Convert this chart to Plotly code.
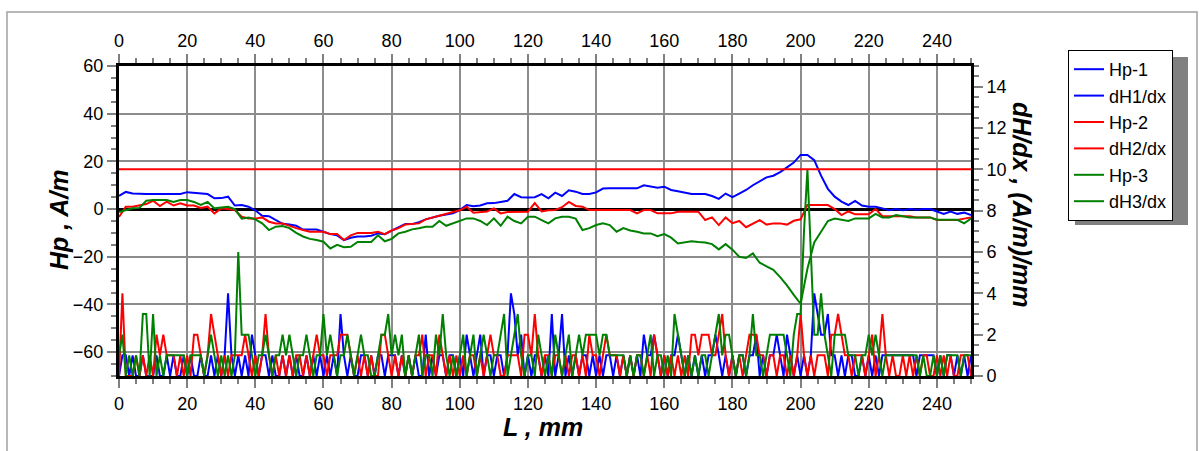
import plotly.graph_objects as go

# ---------------- data ----------------
x_hp = list(range(0, 251, 2))
x_dh = list(range(0, 251, 1))

hp1 = [5.5, 7.2, 6.5, 6.3, 6.3, 6.3, 6.3, 6.3, 6.3, 6.3,
       7.1, 6.8, 6.3, 6.3, 4.5, 4.6, 5.2, 1.5, 1.7, 1.0,
       -0.5, -2.8, -3, -4.5, -6.2, -6.5, -7, -8.6, -8.6, -8.6,
       -9.5, -10.5, -11, -13, -12, -11.5, -11.5, -11.2, -10.2, -10.5,
       -9, -7.5, -6.3, -6.3, -5.5, -4.3, -3.5, -2.8, -2.3, -1.8,
       -0.4, 1.7, 1.2, 1.5, 2.4, 2.5, 3, 3.5, 6.3, 5,
       4.9, 5, 6.3, 4.5, 6.9, 5.5, 7.9, 7.3, 6.3, 6.3,
       7, 8.6, 8.7, 8.7, 8.7, 8.7, 8.7, 10, 9.5, 9,
       9.4, 8, 7.5, 7, 6.3, 6.3, 6.3, 5.5, 4.3, 6.5,
       5, 6.5, 8, 10, 11.5, 13.3, 14, 15.5, 17.5, 19.5,
       22.7, 22.7, 20.5, 14, 8.5, 5.2, 3.1, 1.7, 3.4, 1.5,
       1, 1, 0.3, -0.5, 0, -0.5, 0, -0.3, 0, 0,
       -1, -2, -1, -2, -1.5, -2.5]

hp2 = [-3.3, 1, 1, 1.5, 2.1, 3.5, 1.3, 3.1, 1.5, 2.4,
       1.5, 1.5, 0.5, 1, -1.8, 0.3, 0, -0.4, -3.2, -3.9,
       -4, -3.5, -5.3, -6, -6, -7.1, -8, -8.8, -9.5, -9.5,
       -9.5, -10.5, -10.5, -13, -11, -10, -10, -10, -9.5, -10.5,
       -9, -8, -6.5, -6.3, -6, -4.3, -3.5, -2.5, -2, -1.2,
       -0.5, 1, -1.5, -1.2, -1, 0.3, -1.8, -1.2, -1.1, -1.1,
       -1.1, 2.5, -1, -0.5, -0.4, 0.8, 3, 1.3, 1, -0.4,
       -0.4, -0.4, -0.4, -0.4, -0.4, -0.4, -1.8, -0.4, -0.4, -1.8,
       -1.8, -1.8, -1.1, -1.1, -1.1, -1.1, -4.6, -3.5, -6.7, -3.5,
       -5.9, -5, -7.6, -6, -4.6, -6.5, -6, -6, -6.5, -4.9,
       -4.3, 1.7, 1.7, 1.7, 1.7, 0, -2.5, -1, -2.2, -2.2,
       -2.2, 0, -3, -3, -3, -3.2, -3, -3.5, -3.5, -3.5,
       -4.6, -4.6, -4.6, -4.6, -4, -3.5]

hp3 = [-1.2, -0.5, 0.3, 0.5, 3.5, 3.8, 3.8, 3.8, 3, 3.8,
       3.8, 3, 1.7, 3, 0.3, 0.8, 1, 0, -4, -3.5,
       -4.3, -6, -8.8, -7.4, -7.1, -8, -10, -11.5, -12.5, -13,
       -13.7, -16.5, -15, -16, -15.8, -13.8, -13.8, -13.8, -11, -13.5,
       -12.5, -10.2, -9.5, -8.5, -8, -7.4, -7.4, -5, -7, -6,
       -5, -3.9, -3.9, -5, -6.7, -3.9, -7, -3.2, -5, -6,
       -3.2, -3.2, -4.6, -6, -3.9, -3.2, -3.2, -4, -8.8, -8,
       -6.7, -6, -6.7, -9.5, -8, -9, -9.5, -10.2, -10.2, -11.4,
       -10.5, -12, -14.4, -13.8, -13.5, -13.8, -14, -14.7, -16.9, -14.7,
       -17, -20, -20.5, -18.6, -22.5, -24, -25.5, -28.5, -32, -36,
       -39.7, -25, -14, -9.5, -5, -4, -4.5, -5, -3.9, -3.9,
       -3.9, -2, -3.5, -3.5, -2.5, -3, -3.5, -3.5, -3.5, -3.5,
       -4.5, -4.5, -4.5, -4.5, -6, -4]

dh1 = [0, 1, 1, 0, 1, 0, 0, 1, 0, 0,
       0, 1, 0, 0, 1, 0, 1, 0, 0, 1,
       0, 1, 0, 0, 1, 0, 0, 1, 0, 1,
       0, 1, 4, 1, 0, 1, 0, 1, 0, 2,
       1, 0, 1, 1, 0, 1, 0, 0, 1, 0,
       1, 0, 1, 0, 0, 1, 0, 1, 0, 1,
       0, 1, 0, 1, 0, 3, 1, 0, 1, 0,
       0, 1, 1, 0, 1, 0, 1, 1, 0, 1,
       1, 1, 0, 1, 0, 1, 0, 1, 0, 0,
       2, 0, 1, 0, 1, 1, 0, 1, 1, 0,
       1, 0, 2, 1, 0, 1, 2, 0, 1, 1,
       0, 1, 1, 0, 1, 4, 3, 1, 2, 0,
       1, 0, 1, 1, 0, 1, 0, 3, 0, 1,
       3, 0, 1, 0, 1, 0, 1, 1, 0, 1,
       0, 1, 0, 1, 1, 0, 1, 0, 1, 0,
       1, 0, 1, 0, 2, 1, 1, 2, 1, 0,
       1, 0, 1, 1, 2, 1, 0, 1, 0, 1,
       0, 1, 0, 1, 1, 2, 1, 0, 1, 0,
       1, 0, 1, 1, 0, 1, 1, 2, 0, 1,
       0, 1, 1, 2, 1, 0, 2, 1, 0, 1,
       0, 1, 0, 1, 4, 3, 2, 2, 3, 1,
       1, 0, 1, 0, 1, 1, 0, 0, 1, 0,
       1, 0, 1, 0, 1, 1, 1, 1, 1, 1,
       1, 1, 1, 1, 0, 1, 1, 1, 1, 1,
       0, 1, 0, 1, 1, 0, 1, 0, 1, 0,
       1]

dh2 = [0, 4, 0, 0, 0, 1, 0, 1, 0, 1,
       0, 2, 1, 2, 1, 1, 1, 0, 1, 0,
       1, 0, 2, 2, 1, 0, 1, 3, 2, 1,
       0, 1, 0, 1, 1, 1, 1, 2, 1, 0,
       1, 0, 1, 3, 1, 0, 1, 0, 1, 0,
       1, 0, 1, 1, 0, 1, 0, 1, 2, 1,
       1, 0, 1, 1, 1, 2, 2, 2, 1, 0,
       1, 0, 1, 0, 1, 0, 0, 2, 2, 1,
       0, 1, 0, 1, 0, 1, 0, 1, 1, 2,
       0, 1, 1, 0, 2, 1, 0, 1, 0, 1,
       0, 1, 0, 1, 1, 0, 1, 0, 1, 2,
       1, 1, 0, 0, 1, 1, 1, 1, 0, 2,
       2, 1, 3, 1, 0, 1, 1, 0, 1, 1,
       0, 1, 0, 1, 1, 0, 1, 0, 2, 1,
       1, 0, 1, 2, 1, 1, 1, 0, 1, 0,
       1, 0, 1, 1, 0, 1, 0, 2, 1, 0,
       1, 0, 1, 0, 1, 0, 1, 0, 2, 2,
       1, 2, 2, 2, 1, 1, 2, 3, 1, 0,
       1, 0, 1, 0, 1, 2, 2, 2, 1, 1,
       0, 1, 1, 0, 1, 1, 0, 1, 0, 1,
       3, 1, 0, 1, 0, 1, 1, 1, 0, 2,
       2, 3, 2, 1, 1, 0, 1, 1, 1, 0,
       1, 2, 0, 1, 3, 1, 0, 1, 0, 0,
       1, 0, 1, 0, 1, 0, 1, 1, 0, 0,
       1, 0, 1, 0, 1, 0, 0, 1, 1, 1,
       0]

dh3 = [1, 2, 0, 1, 0, 1, 0, 3, 3, 0,
       3, 0, 1, 0, 1, 1, 1, 1, 1, 1,
       0, 1, 1, 1, 1, 0, 1, 2, 1, 0,
       1, 0, 1, 0, 1, 6, 2, 2, 2, 1,
       0, 1, 1, 2, 1, 0, 1, 1, 2, 1,
       2, 1, 0, 1, 1, 2, 1, 0, 1, 1,
       3, 1, 2, 1, 0, 1, 1, 2, 1, 0,
       1, 2, 1, 1, 0, 0, 1, 2, 2, 3,
       1, 2, 1, 2, 0, 1, 0, 1, 2, 0,
       1, 1, 0, 2, 1, 3, 1, 0, 1, 0,
       1, 2, 0, 1, 2, 0, 1, 2, 1, 0,
       1, 1, 2, 3, 0, 1, 2, 3, 1, 0,
       1, 1, 0, 2, 1, 0, 1, 0, 2, 1,
       0, 1, 2, 0, 1, 2, 1, 2, 2, 2,
       2, 1, 2, 2, 1, 1, 1, 1, 1, 0,
       1, 0, 1, 1, 0, 1, 2, 0, 1, 1,
       0, 1, 0, 3, 2, 1, 0, 1, 0, 1,
       0, 1, 1, 0, 1, 2, 3, 1, 2, 2,
       1, 0, 1, 1, 0, 1, 3, 1, 1, 0,
       1, 2, 2, 2, 2, 2, 1, 0, 2, 3,
       3, 7, 10, 6, 2, 2, 4, 2, 1, 0,
       2, 2, 2, 2, 1, 1, 1, 0, 1, 1,
       2, 1, 2, 1, 0, 1, 1, 1, 1, 1,
       1, 1, 1, 1, 1, 0, 1, 0, 0, 1,
       0, 1, 0, 1, 1, 1, 1, 0, 1, 1,
       1]

threshold = 10
x_range = [0, 250]
y_left_range = [-70, 60]
y_right_range = [0, 15]

# ---------------- layout geometry ----------------
W, H = 1204, 451
ML, MR, MT, MB = 119, 233, 66, 75
PW, PH = W - ML - MR, H - MT - MB


def px_x(px):
    return (px - ML) / PW


def px_y(py):
    return (H - MB - py) / PH


BLUE, RED, GREEN = "#0000FF", "#FF0000", "#008000"
FONT = "Liberation Sans, Arial, sans-serif"

fig = go.Figure()
series = [
    ("Hp-1", x_hp, hp1, BLUE, "y"),
    ("dH1/dx", x_dh, dh1, BLUE, "y2"),
    ("Hp-2", x_hp, hp2, RED, "y"),
    ("dH2/dx", x_dh, dh2, RED, "y2"),
    ("Hp-3", x_hp, hp3, GREEN, "y"),
    ("dH3/dx", x_dh, dh3, GREEN, "y2"),
]
for name, xs, ys, col, ax in series:
    fig.add_trace(go.Scatter(x=xs, y=ys, name=name, mode="lines",
                             line=dict(color=col, width=2), yaxis=ax,
                             legendgroup=name))

# carrier trace so that the top (mirrored) x axis is drawn
fig.add_trace(go.Scatter(x=x_range, y=[None, None], xaxis="x2", yaxis="y",
                         mode="lines", showlegend=False, hoverinfo="skip"))

tickfont = dict(family=FONT, size=18, color="black")
common_x = dict(range=x_range, tick0=0, dtick=20, ticks="outside", ticklen=9,
                tickwidth=2, tickcolor="#808080", showline=True, linecolor="black",
                linewidth=3, zeroline=False, tickfont=tickfont,
                minor=dict(dtick=5, ticklen=5, tickwidth=1.5, tickcolor="#808080",
                           ticks="outside", showgrid=False))

fig.update_layout(
    width=W, height=H,
    margin=dict(l=ML, r=MR, t=MT, b=MB, pad=0),
    paper_bgcolor="white", plot_bgcolor="white",
    showlegend=True,
    xaxis=dict(**common_x, showgrid=True, gridcolor="#8c8c8c", gridwidth=2),
    xaxis2=dict(**common_x, overlaying="x", side="top", anchor="y", matches="x",
                showgrid=False),
    yaxis=dict(range=y_left_range, tick0=0, dtick=20, ticks="outside", ticklen=9,
               tickwidth=2, tickcolor="#808080", showline=True, linecolor="black",
               linewidth=3, showgrid=True, gridcolor="#8c8c8c", gridwidth=2,
               zeroline=True, zerolinecolor="black", zerolinewidth=3,
               tickfont=tickfont,
               minor=dict(dtick=5, ticklen=5, tickwidth=1.5, tickcolor="#808080",
                          ticks="outside", showgrid=False)),
    yaxis2=dict(range=y_right_range, tick0=0, dtick=2, overlaying="y", side="right",
                anchor="x", ticks="outside", ticklen=9, tickwidth=2,
                tickcolor="#808080", showline=True, linecolor="black", linewidth=3,
                showgrid=False, zeroline=False, tickfont=tickfont,
                minor=dict(dtick=0.5, ticklen=5, tickwidth=1.5, tickcolor="#808080",
                           ticks="outside", showgrid=False)),
    legend=dict(x=px_x(1068), y=px_y(50), xanchor="left", yanchor="top",
                bgcolor="white", bordercolor="black", borderwidth=1,
                font=dict(family=FONT, size=18, color="black"),
                tracegroupgap=2, traceorder="normal", itemwidth=30),
    hovermode=False,
)

# threshold line on the right axis
fig.add_shape(type="line", xref="x", yref="y2", x0=x_range[0], x1=x_range[1],
              y0=threshold, y1=threshold, line=dict(color=RED, width=2))

# outer frame
fig.add_shape(type="rect", xref="paper", yref="paper",
              x0=px_x(7), x1=px_x(1197), y0=px_y(470), y1=px_y(12),
              line=dict(color="#a0a0a0", width=1.5), fillcolor="rgba(0,0,0,0)",
              layer="below")
# legend shadow
fig.add_shape(type="rect", xref="paper", yref="paper",
              x0=px_x(1075), x1=px_x(1188), y0=px_y(225), y1=px_y(57),
              line=dict(width=0), fillcolor="#808080", layer="above")

title_font = dict(family=FONT, size=25, color="black")
fig.add_annotation(text="<b><i>Hp , A/m</i></b>", xref="paper", yref="paper",
                   x=px_x(59), y=px_y(220), textangle=-90, showarrow=False,
                   font=title_font, xanchor="center", yanchor="middle")
fig.add_annotation(text="<b><i>L , mm</i></b>", xref="paper", yref="paper",
                   x=px_x(543), y=px_y(427), showarrow=False,
                   font=title_font, xanchor="center", yanchor="middle")
fig.add_annotation(text="<b><i>dH/dx , (A/m)/mm</i></b>", xref="paper", yref="paper",
                   x=px_x(1022), y=px_y(205), textangle=90, showarrow=False,
                   font=title_font, xanchor="center", yanchor="middle")

fig.write_html("out.html", post_script="document.body.style.margin='0';",
               config={"displayModeBar": False})
